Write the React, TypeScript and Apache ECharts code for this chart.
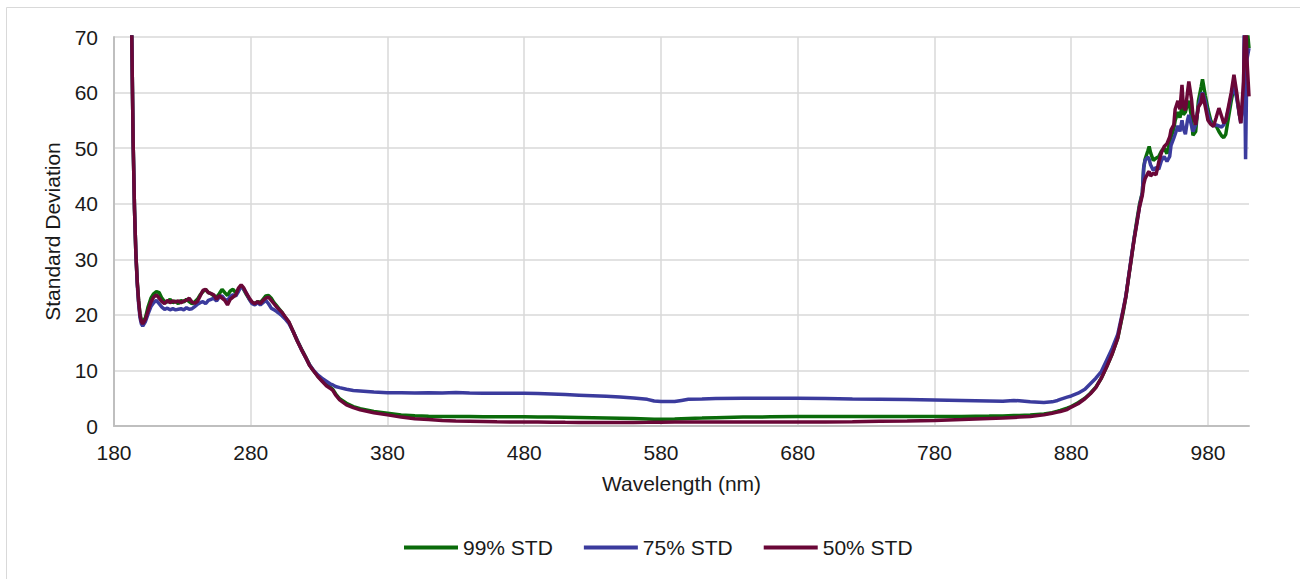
import React, { useEffect, useRef } from "react";
import * as echarts from "echarts";

// Wavelength (nm)
const wavelengths = [
  190, 192, 193, 194, 195, 196, 197, 198, 199, 200, 201, 203, 205, 207, 209, 211, 213, 215, 217, 219,
  221, 223, 225, 227, 229, 231, 233, 235, 237, 239, 241, 243, 245, 247, 249, 251, 253, 255, 257, 259,
  261, 263, 265, 267, 269, 271, 273, 275, 277, 279, 281, 283, 285, 287, 289, 291, 293, 295, 297, 299,
  301, 303, 305, 308, 311, 314, 317, 320, 323, 326, 329, 332, 335, 338, 340, 342, 345, 350, 355, 360,
  370, 380, 390, 400, 410, 420, 430, 440, 450, 460, 470, 480, 490, 500, 510, 520, 530, 540, 550, 560,
  570, 575, 580, 590, 595, 600, 610, 620, 640, 660, 680, 700, 720, 740, 760, 780, 800, 820, 830, 838,
  842, 850, 860, 866, 870, 872, 877, 880, 885, 890, 894, 898, 902, 906, 910, 914, 918, 920, 922, 924,
  926, 928, 930, 932, 933, 934, 936, 937, 938, 940, 942, 944, 946, 948, 950, 952, 953, 955, 956, 958,
  959.5, 961, 962, 963.5, 965, 966, 968, 969, 971, 973, 975, 976, 978, 980, 982, 984, 986, 988, 990, 991.5,
  993, 995, 997, 999, 1001, 1003, 1004, 1006, 1006.5, 1007.5, 1008.5, 1010,
];

const std99 = [
  110, 82, 70, 51, 39, 31, 26, 22.5, 20.2, 19, 18.6, 19.5, 21.5, 23.0, 23.8, 24.2, 24.0, 23.0, 22.4, 22.3,
  22.8, 22.2, 22.5, 22.0, 22.6, 22.3, 22.8, 22.4, 22.0, 22.3, 22.8, 23.6, 24.2, 24.6, 24.0, 23.8, 23.4, 23.2, 23.8, 24.6,
  24.0, 23.5, 24.3, 24.6, 24.0, 24.6, 25.2, 24.5, 23.6, 22.8, 22.2, 22.0, 22.4, 22.2, 22.8, 23.4, 23.5, 23.0, 22.2, 21.6,
  21.0, 20.4, 19.6, 18.6, 17.0, 15.4, 13.9, 12.5, 11.0, 9.9, 9.0, 8.2, 7.5, 7.0, 6.6, 5.8, 4.9, 4.1, 3.5, 3.1,
  2.6, 2.3, 2.0, 1.85, 1.75, 1.7, 1.7, 1.7, 1.65, 1.65, 1.65, 1.65, 1.6, 1.6, 1.58, 1.55, 1.5, 1.45, 1.4, 1.35,
  1.28, 1.22, 1.2, 1.25, 1.3, 1.35, 1.42, 1.5, 1.6, 1.65, 1.7, 1.7, 1.7, 1.7, 1.7, 1.7, 1.72, 1.78, 1.82, 1.88,
  1.9, 2.0, 2.15, 2.4, 2.65, 2.8, 3.2, 3.5, 4.2, 5.0, 5.9, 7.0, 8.6, 10.7, 13.0, 15.8, 20.5, 23.3, 26.8, 30.2,
  33.8, 37.0, 40.0, 42.0, 46.5, 48.0, 49.5, 50.3, 49.2, 47.8, 48.2, 48.5, 49.5, 50.0, 49.0, 51.0, 52.0, 53.5, 55.0, 56.5,
  55.5, 57.5, 56.0, 56.5, 58.0, 58.5, 55.5, 52.3, 53.0, 58.5, 61.0, 62.4, 59.5, 57.0, 55.0, 54.2, 54.0, 53.0, 52.2, 51.9,
  52.5, 55.5, 58.5, 61.0, 59.5, 56.0, 55.0, 59.0, 63, 67, 72, 68,
];

const std75 = [
  110, 82, 70, 51, 39, 31, 25.5, 22, 19.5, 18.4, 18.0, 18.8, 20.2, 21.5, 22.2, 22.6, 22.0, 21.4, 21.0, 21.2,
  20.9, 21.1, 20.9, 21.0, 21.1, 20.9, 21.3, 21.0, 21.1, 21.5, 21.9, 22.2, 22.4, 22.0, 22.6, 22.8, 23.0, 22.5, 23.2, 23.4,
  22.8, 22.6, 23.3, 23.6, 23.4, 24.2, 25.2, 24.6, 23.8, 22.8, 22.0, 21.8, 22.2, 21.8, 22.2, 22.6, 22.0, 21.2, 20.9, 20.6,
  20.2, 19.8, 19.3, 18.4, 17.0, 15.4, 13.8, 12.4, 11.0, 10.0, 9.2, 8.6, 8.1, 7.6, 7.4, 7.1, 6.9, 6.6, 6.4, 6.3,
  6.1, 6.0, 6.0, 5.95, 6.0, 5.95, 6.05, 5.95, 5.9, 5.9, 5.9, 5.9, 5.85, 5.75, 5.65, 5.55, 5.45, 5.35, 5.2, 5.05,
  4.8, 4.5, 4.4, 4.4, 4.6, 4.8, 4.85, 4.95, 5.0, 5.0, 5.0, 4.95, 4.85, 4.8, 4.75, 4.7, 4.6, 4.5, 4.45, 4.6,
  4.55, 4.35, 4.25, 4.35, 4.6, 4.8, 5.2, 5.4, 5.9, 6.6, 7.6, 8.6, 9.8, 11.9, 14.0, 16.5, 21.0, 23.5, 27.0, 30.5,
  33.8, 36.6, 39.6, 42.0, 46.5, 47.8, 48.4, 48.0, 47.0, 46.0, 46.5, 46.2, 47.8, 48.5, 47.6, 48.5, 50.5, 51.8, 52.5, 54.0,
  53.0, 55.0, 53.5, 52.5, 55.0, 56.0, 54.0, 53.0, 54.2, 57.5, 59.5, 60.0, 58.5, 56.0, 54.5, 54.0, 54.2, 54.0, 53.8, 54.2,
  55.0, 57.0, 59.5, 61.0, 59.0, 56.0, 54.5, 60.0, 72, 48, 66, 68,
];

const std50 = [
  110, 82, 70, 51, 39, 31, 26, 22.5, 20, 18.8, 18.4, 19.2, 20.8, 22.3, 23.2, 23.6, 23.0, 22.4, 22.0, 22.6,
  22.2, 22.5, 22.3, 22.5, 22.2, 22.5, 22.6, 23.0, 22.3, 22.1, 22.4, 23.4, 24.4, 24.6, 24.0, 23.8, 23.6, 22.8, 23.5, 23.0,
  22.6, 21.8, 22.8, 23.2, 23.6, 24.8, 25.4, 24.8, 23.8, 23.0, 22.3, 22.0, 22.4, 22.0, 22.6, 23.0, 23.2, 22.6, 22.0, 21.4,
  20.9, 20.4, 19.7, 18.7, 17.0, 15.3, 13.8, 12.4, 10.9, 9.9, 8.9, 8.1, 7.3, 6.8, 6.4, 5.6, 4.7, 3.8, 3.3, 2.9,
  2.4, 2.0, 1.6, 1.3, 1.15, 1.0, 0.9, 0.85, 0.8, 0.75, 0.72, 0.7, 0.7, 0.68, 0.66, 0.65, 0.65, 0.65, 0.65, 0.65,
  0.66, 0.67, 0.68, 0.7, 0.7, 0.7, 0.7, 0.7, 0.7, 0.7, 0.7, 0.72, 0.78, 0.85, 0.92, 1.0, 1.15, 1.35, 1.45, 1.55,
  1.6, 1.7, 2.0, 2.3, 2.5, 2.6, 2.95, 3.4, 4.0, 4.9, 5.8, 6.9, 8.6, 10.7, 13.0, 15.8, 20.8, 23.3, 26.8, 30.2,
  33.5, 36.5, 39.5, 41.5, 43.5, 44.5, 45.5, 45.8, 45.0, 45.5, 45.2, 47.5, 49.2, 50.3, 50.8, 52.0, 53.3, 54.2, 57.0, 58.5,
  57.0, 61.4, 57.5, 56.8, 60.0, 62.0, 58.7, 56.0, 54.2, 57.4, 58.2, 59.9, 57.5, 55.0, 54.3, 53.9, 55.5, 57.2, 55.7, 54.5,
  55.0, 57.5, 60.0, 63.2, 60.0, 56.0, 54.5, 62.0, 68, 75, 66, 59.3,
];

const seriesNames = ["99% STD", "75% STD", "50% STD"];
const seriesColors = ["#0a6b0a", "#3b3b9d", "#6a0737"];

const FONT = "'Liberation Sans', Arial, sans-serif";
const TEXT = "#1a1a1a";

export default function App() {
  const ref = useRef<HTMLDivElement>(null);

  useEffect(() => {
    document.body.style.overflow = "hidden";
    if (!ref.current) return;
    const chart = echarts.init(ref.current, undefined, { renderer: "svg" });
    const toPairs = (vals: number[]) => wavelengths.map((w, i) => [w, vals[i]]);
    const all = [std99, std75, std50];

    chart.setOption({
      animation: false,
      backgroundColor: "#ffffff",
      textStyle: { fontFamily: FONT },
      graphic: [
        {
          type: "rect",
          shape: { x: 6.5, y: 7.5, width: 1400, height: 700 },
          style: { fill: "none", stroke: "#d9d9d9", lineWidth: 1 },
          silent: true,
        },
      ],
      grid: { left: 114, top: 37, width: 1135, height: 389, containLabel: false },
      legend: {
        left: 399,
        top: 532,
        itemWidth: 54,
        itemHeight: 4,
        itemGap: 31,
        icon: "rect",
        data: seriesNames,
        textStyle: { fontFamily: FONT, fontSize: 21, color: TEXT },
      },
      xAxis: {
        type: "value",
        min: 180,
        max: 1010,
        interval: 100,
        name: "Wavelength (nm)",
        nameLocation: "middle",
        nameGap: 47,
        nameTextStyle: { fontFamily: FONT, fontSize: 21, color: TEXT },
        axisLine: { show: true, onZero: false, lineStyle: { color: "#bfbfbf", width: 2 } },
        axisTick: { show: false },
        axisLabel: { showMaxLabel: false, margin: 16, fontFamily: FONT, fontSize: 21, color: TEXT },
        splitLine: { show: true, showMaxLine: false, lineStyle: { color: "#d9d9d9", width: 1.5 } },
      },
      yAxis: {
        type: "value",
        min: 0,
        max: 70,
        interval: 10,
        name: "Standard Deviation",
        nameLocation: "middle",
        nameGap: 51,
        nameTextStyle: { fontFamily: FONT, fontSize: 21, color: TEXT },
        axisLine: { show: true, lineStyle: { color: "#bfbfbf", width: 2 } },
        axisTick: { show: false },
        axisLabel: { margin: 16, fontFamily: FONT, fontSize: 21, color: TEXT },
        splitLine: { show: true, lineStyle: { color: "#d9d9d9", width: 1.5 } },
      },
      series: seriesNames.map((name, i) => ({
        name,
        type: "line",
        data: toPairs(all[i]),
        symbol: "none",
        showSymbol: false,
        clip: true,
        color: seriesColors[i],
        lineStyle: { color: seriesColors[i], width: 3.5 },
        z: 2 + i,
      })),
    });

    return () => chart.dispose();
  }, []);

  return (
    <div
      ref={ref}
      style={{ position: "fixed", left: 0, top: 0, width: 1300, height: 579, background: "#fff" }}
    />
  );
}
